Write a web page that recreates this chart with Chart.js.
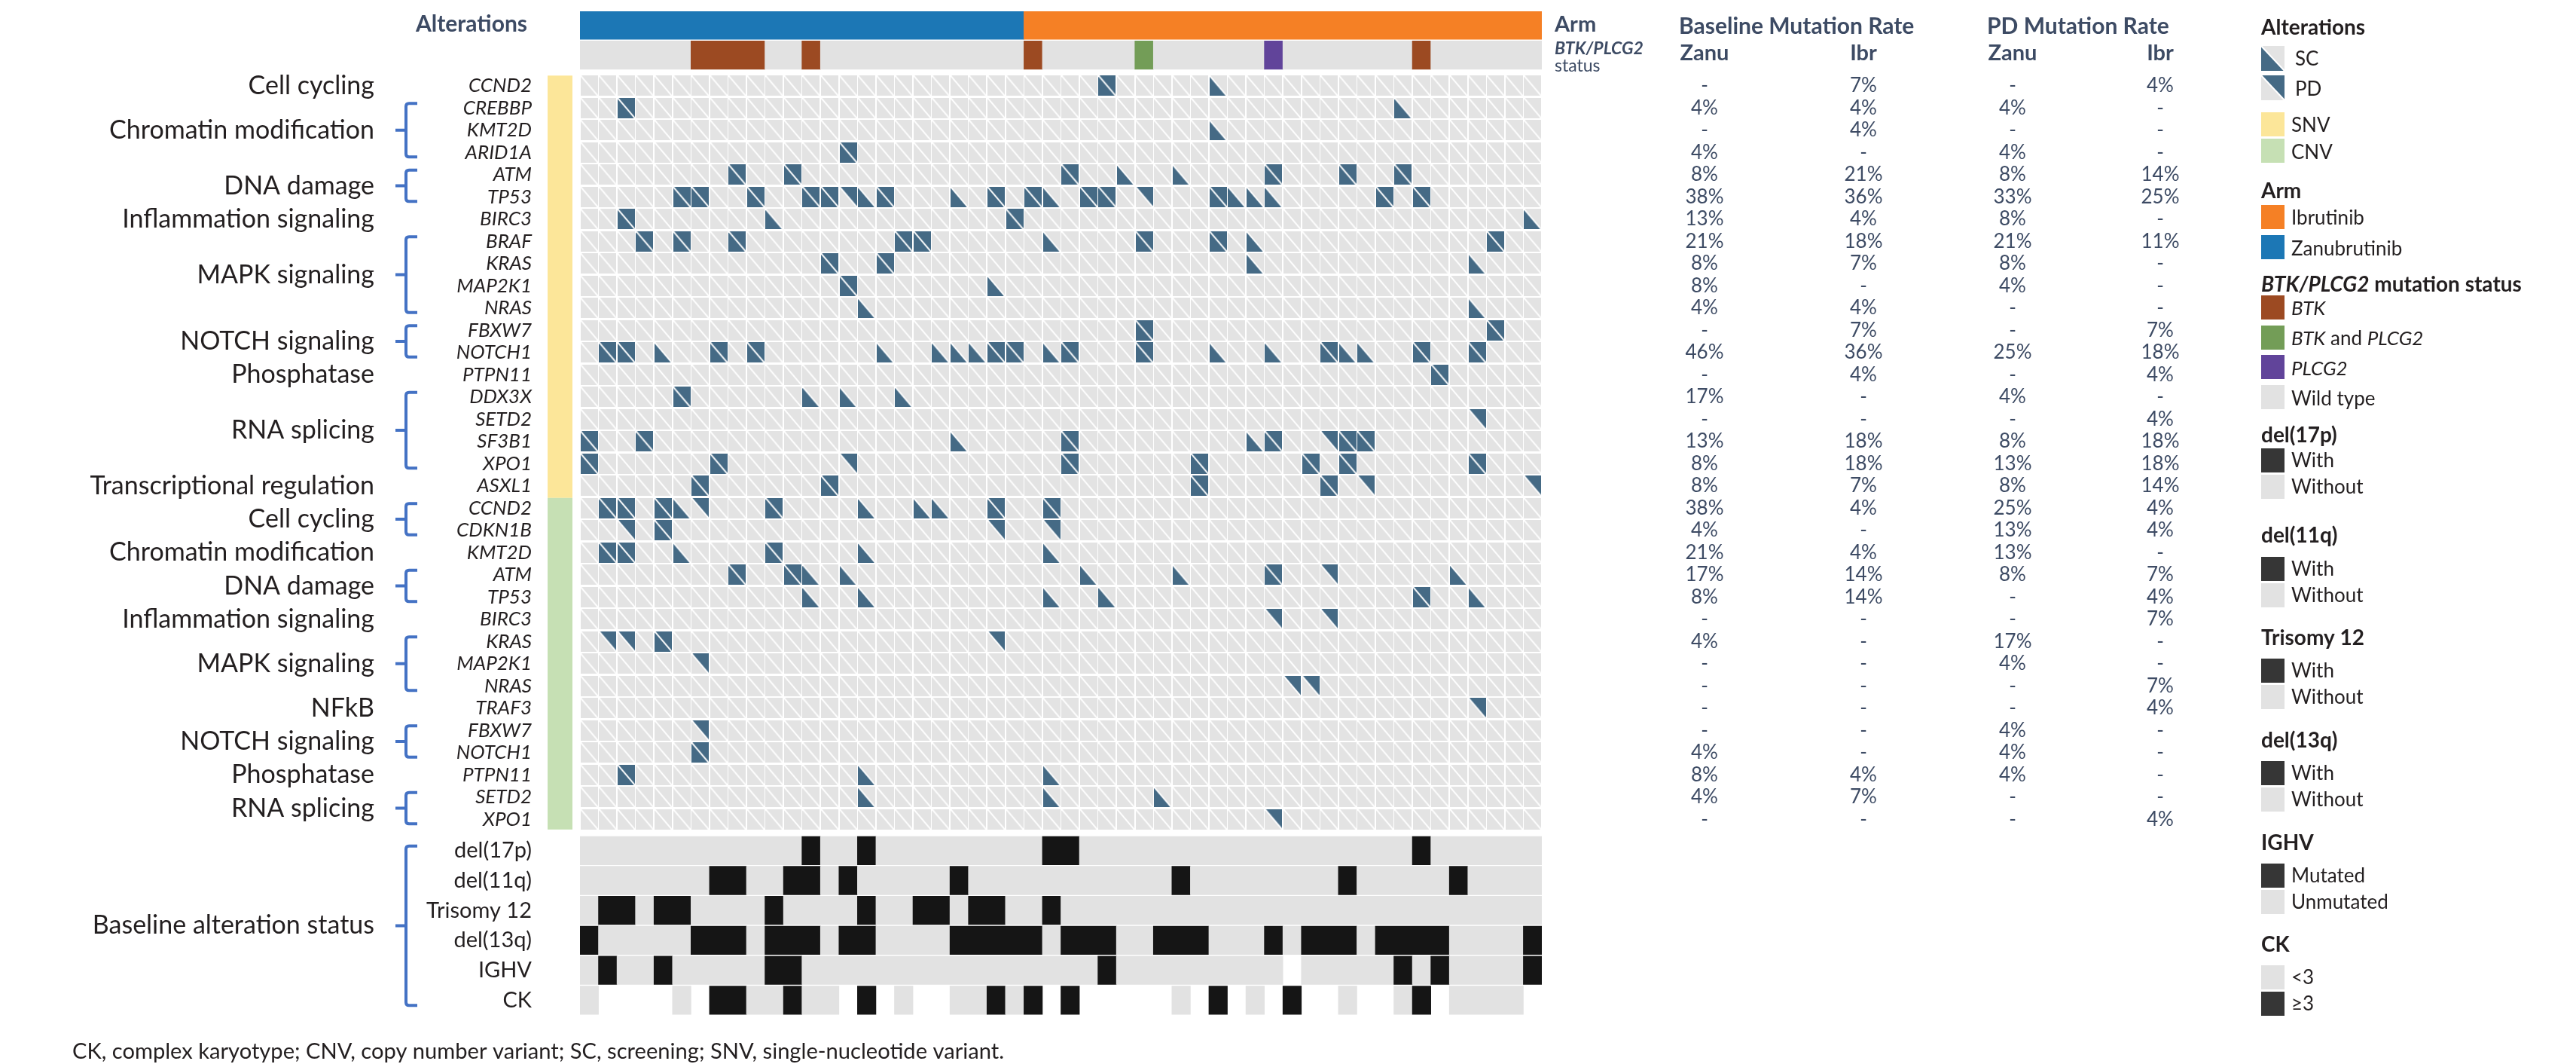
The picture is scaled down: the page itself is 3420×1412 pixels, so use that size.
<!DOCTYPE html>
<html>
<head>
<meta charset="utf-8">
<script src="https://cdn.jsdelivr.net/npm/chart.js@4.4.1/dist/chart.umd.min.js"></script>
<style>
  html, body { margin: 0; padding: 0; background: #ffffff; overflow: hidden; }
  canvas { display: block; }
</style>
</head>
<body>
<canvas id="onco" width="3420" height="1412" style="width:3420px;height:1412px"></canvas>
<script>
// ---------------- data ----------------
const armNames = ['Zanubrutinib', 'Ibrutinib'];
const armShort = ['Zanu', 'Ibr'];
const armSizes = [24, 28];

// BTK/PLCG2 status at progression (patient column indices)
const btkOnly = [6, 7, 8, 9, 12, 24, 45];
const btkAndPlcg2 = [30];
const plcg2Only = [37];

// SNV genes: columns altered at both screening and PD, screening only, PD only
const snvGenes = ['CCND2', 'CREBBP', 'KMT2D', 'ARID1A', 'ATM', 'TP53', 'BIRC3', 'BRAF', 'KRAS', 'MAP2K1',
  'NRAS', 'FBXW7', 'NOTCH1', 'PTPN11', 'DDX3X', 'SETD2', 'SF3B1', 'XPO1', 'ASXL1'];
const snvBoth = [[28], [2], [], [14], [8, 11, 26, 37, 41, 44],
  [5, 6, 9, 12, 13, 16, 22, 24, 27, 28, 34, 43, 45], [2, 23], [3, 5, 8, 17, 18, 30, 34, 49], [13, 16], [14],
  [], [30, 49], [1, 2, 7, 9, 22, 23, 26, 30, 40, 45, 48], [46], [5], [], [0, 3, 26, 37, 41, 42],
  [0, 7, 26, 33, 39, 41, 48], [6, 13, 33, 40]];
const snvScOnly = [[34], [44], [34], [], [29, 32], [15, 20, 25, 35, 36, 37], [10, 51], [25, 36], [36, 48], [22],
  [15, 48], [], [4, 16, 19, 20, 21, 25, 34, 37, 41, 42], [], [12, 14, 17], [], [20, 36], [], []];
const snvPdOnly = [[], [], [], [], [], [14, 30], [], [], [], [],
  [], [], [], [], [], [48], [40], [14], [42, 51]];

// CNV genes
const cnvGenes = ['CCND2', 'CDKN1B', 'KMT2D', 'ATM', 'TP53', 'BIRC3', 'KRAS', 'MAP2K1', 'NRAS', 'TRAF3',
  'FBXW7', 'NOTCH1', 'PTPN11', 'SETD2', 'XPO1'];
const cnvBoth = [[1, 2, 4, 10, 22, 25], [4], [1, 2, 10], [8, 11, 37], [45], [], [4], [], [], [],
  [], [6], [2], [], []];
const cnvScOnly = [[5, 15, 18, 19], [], [5, 15, 25], [12, 14, 27, 32, 47], [12, 15, 25, 28, 48], [], [], [], [], [],
  [], [], [15, 25], [15, 25, 31], []];
const cnvPdOnly = [[6], [2, 22, 25], [], [40], [], [37, 40], [1, 2, 22], [6], [38, 39], [48],
  [6], [], [], [], [37]];

// pathway groups: [label, first row, last row] within each block
const snvPathways = [['Cell cycling', 0, 0], ['Chromatin modification', 1, 3], ['DNA damage', 4, 5],
  ['Inflammation signaling', 6, 6], ['MAPK signaling', 7, 10], ['NOTCH signaling', 11, 12],
  ['Phosphatase', 13, 13], ['RNA splicing', 14, 17], ['Transcriptional regulation', 18, 18]];
const cnvPathways = [['Cell cycling', 0, 1], ['Chromatin modification', 2, 2], ['DNA damage', 3, 4],
  ['Inflammation signaling', 5, 5], ['MAPK signaling', 6, 8], ['NFkB', 9, 9], ['NOTCH signaling', 10, 11],
  ['Phosphatase', 12, 12], ['RNA splicing', 13, 14]];

// baseline alteration status
const baselineNames = ['del(17p)', 'del(11q)', 'Trisomy 12', 'del(13q)', 'IGHV', 'CK'];
const del17p = [12, 15, 25, 26, 45];
const del11q = [7, 8, 11, 12, 14, 20, 32, 41, 47];
const trisomy12 = [1, 2, 4, 5, 10, 15, 18, 19, 21, 22, 25];
const del13q = [0, 6, 7, 8, 10, 11, 12, 14, 15, 20, 21, 22, 23, 24, 26, 27, 28, 31, 32, 33, 37, 39, 40, 41,
  43, 44, 45, 46, 51];
const ighvMutated = [1, 4, 10, 11, 28, 44, 46, 51];
const ighvUnknown = [38];
const ckHigh = [7, 8, 11, 15, 22, 24, 26, 34, 38, 45];
const ckLow = [0, 5, 9, 10, 12, 13, 17, 20, 21, 23, 32, 36, 41, 44, 47, 48, 49, 50];

// ---------------- styling & layout ----------------
const COLORS = {
  zanu: '#1C77B5', ibr: '#F58025', btk: '#9C4A22', btkPlcg2: '#739D57', plcg2: '#61449A', wild: '#E2E2E2',
  cell: '#E3E3E3', mark: '#456A85', pos: '#151515', neg: '#E2E2E2', legendDark: '#363636',
  snv: '#FCE699', cnv: '#C6E0B4', bracket: '#4472C4', slate: '#3D4B64', ink: '#231F20'
};
const FONT = 'Lato, "Open Sans", "DejaVu Sans", sans-serif';
const W = 3420, H = 1412;
const N = armSizes[0] + armSizes[1];
const PLOT = { left: 770, right: 2047, top: 15, bottom: 1348 };
const Y_SPAN = PLOT.bottom - PLOT.top;       // y axis runs in px-sized units from the plot top
const BAND_H = 37.5, ARM_Y = 18.5, STATUS_Y = 58.2;
const GENE_TOP = 85.3, GENE_PITCH = 29.5, CELL_W = 23, CELL_H = 27;
const BASE_TOP = 1095, BASE_PITCH = 39.7, BASE_H = 37.6;

const geneCenter = r => GENE_TOP + r * GENE_PITCH + CELL_H / 2;
const baseCenter = j => BASE_TOP + j * BASE_PITCH + BASE_H / 2;

// ---------------- derived rows ----------------
const geneRows = [];
snvGenes.forEach((g, i) => geneRows.push({ gene: g, both: snvBoth[i], sc: snvScOnly[i], pd: snvPdOnly[i] }));
cnvGenes.forEach((g, i) => geneRows.push({ gene: g, both: cnvBoth[i], sc: cnvScOnly[i], pd: cnvPdOnly[i] }));

function stateOf(row, c) {
  if (row.both.includes(c)) return 'both';
  if (row.sc.includes(c)) return 'sc';
  if (row.pd.includes(c)) return 'pd';
  return 'none';
}
const armOf = c => (c < armSizes[0] ? 0 : 1);
function rateText(count, n) { return count === 0 ? '-' : Math.round(100 * count / n) + '%'; }
function rates(row) {
  const out = [];
  for (const phase of ['sc', 'pd']) {
    for (const a of [0, 1]) {
      let k = 0;
      for (let c = 0; c < N; c++) {
        if (armOf(c) !== a) continue;
        const s = stateOf(row, c);
        if (s === 'both' || s === phase) k++;
      }
      out.push(rateText(k, armSizes[a]));
    }
  }
  return out;
}

// merge consecutive columns with the same value into floating bars
function runs(values, yCenter, colorOf) {
  const data = [], colors = [];
  let start = 0;
  for (let c = 1; c <= values.length; c++) {
    if (c === values.length || values[c] !== values[start]) {
      const col = colorOf(values[start]);
      if (col) { data.push({ x: [start, c], y: yCenter }); colors.push(col); }
      start = c;
    }
  }
  return { data, colors };
}

function paintCell(g, x, y, w, h, kind) {
  g.fillStyle = COLORS.cell;
  g.fillRect(x, y, w, h);
  g.fillStyle = COLORS.mark;
  if (kind === 'sc' || kind === 'both') {
    g.beginPath(); g.moveTo(x, y); g.lineTo(x, y + h); g.lineTo(x + w, y + h); g.closePath(); g.fill();
  }
  if (kind === 'pd' || kind === 'both') {
    g.beginPath(); g.moveTo(x, y); g.lineTo(x + w, y); g.lineTo(x + w, y + h); g.closePath(); g.fill();
  }
  g.strokeStyle = '#FFFFFF'; g.lineWidth = 2;
  g.beginPath(); g.moveTo(x, y); g.lineTo(x + w, y + h); g.stroke();
}
function cellIcon(kind) {
  const cv = document.createElement('canvas');
  cv.width = CELL_W; cv.height = CELL_H;
  paintCell(cv.getContext('2d'), 0, 0, CELL_W, CELL_H, kind);
  return cv;
}

// ---------------- datasets ----------------
const datasets = [];
const barBase = { type: 'bar', indexAxis: 'y', grouped: false, borderWidth: 0, barThickness: BAND_H };

// arm band
{
  const armVals = [];
  armSizes.forEach((n, a) => { for (let i = 0; i < n; i++) armVals.push(a); });
  const r = runs(armVals, ARM_Y, a => (a === 0 ? COLORS.zanu : COLORS.ibr));
  datasets.push(Object.assign({}, barBase, { label: 'Arm', data: r.data, backgroundColor: r.colors }));
}
// BTK/PLCG2 status band
{
  const vals = [];
  for (let c = 0; c < N; c++) {
    vals.push(btkOnly.includes(c) ? 'btk' : btkAndPlcg2.includes(c) ? 'btkPlcg2' : plcg2Only.includes(c) ? 'plcg2' : 'wild');
  }
  const r = runs(vals, STATUS_Y, v => COLORS[v]);
  datasets.push(Object.assign({}, barBase, { label: 'BTK/PLCG2 status', data: r.data, backgroundColor: r.colors }));
}
// gene alteration cells
{
  const kinds = ['none', 'sc', 'pd', 'both'];
  const pts = { none: [], sc: [], pd: [], both: [] };
  geneRows.forEach((row, r) => {
    for (let c = 0; c < N; c++) pts[stateOf(row, c)].push({ x: c + 0.5, y: geneCenter(r) });
  });
  kinds.forEach(k => datasets.push({
    type: 'scatter', label: k, data: pts[k], pointStyle: cellIcon(k),
    pointRadius: 1, pointHoverRadius: 1, borderWidth: 0, showLine: false
  }));
}
// baseline alteration status rows
{
  const lists = [
    { pos: del17p, missing: [] }, { pos: del11q, missing: [] }, { pos: trisomy12, missing: [] },
    { pos: del13q, missing: [] }, { pos: ighvMutated, missing: ighvUnknown }, { pos: ckHigh, neg: ckLow }
  ];
  const data = [], colors = [];
  lists.forEach((l, j) => {
    const vals = [];
    for (let c = 0; c < N; c++) {
      if (l.pos.includes(c)) vals.push(1);
      else if (l.neg) vals.push(l.neg.includes(c) ? 0 : -1);
      else vals.push(l.missing.includes(c) ? -1 : 0);
    }
    const r = runs(vals, baseCenter(j), v => (v === 1 ? COLORS.pos : v === 0 ? COLORS.neg : null));
    data.push(...r.data); colors.push(...r.colors);
  });
  datasets.push(Object.assign({}, barBase, { label: 'Baseline', data, backgroundColor: colors, barThickness: BASE_H }));
}

// ---------------- text, brackets, table and legend ----------------
function txt(ctx, s, x, y, font, color, align) {
  ctx.font = font; ctx.fillStyle = color; ctx.textAlign = align || 'left'; ctx.textBaseline = 'middle';
  ctx.fillText(s, x, y);
}
function txtRuns(ctx, parts, x, y, color) {
  ctx.textAlign = 'left'; ctx.textBaseline = 'middle'; ctx.fillStyle = color;
  let cx = x;
  for (const [s, f] of parts) { ctx.font = f; ctx.fillText(s, cx, y); cx += ctx.measureText(s).width; }
}
function bracket(ctx, yTop, yBot) {
  const xv = 539, xr = 554, xl = 525, rr = 4;
  ctx.save();
  ctx.strokeStyle = COLORS.bracket; ctx.lineWidth = 4; ctx.lineCap = 'butt'; ctx.lineJoin = 'round';
  ctx.beginPath();
  ctx.moveTo(xr, yTop); ctx.lineTo(xv + rr, yTop); ctx.quadraticCurveTo(xv, yTop, xv, yTop + rr);
  ctx.lineTo(xv, yBot - rr); ctx.quadraticCurveTo(xv, yBot, xv + rr, yBot); ctx.lineTo(xr, yBot);
  const ym = (yTop + yBot) / 2;
  ctx.moveTo(xv, ym); ctx.lineTo(xl, ym);
  ctx.stroke();
  ctx.restore();
}

const annotate = {
  id: 'annotate',
  afterDraw(chart) {
    const ctx = chart.ctx;
    const ys = chart.scales.y;
    const py = v => ys.getPixelForValue(v);
    ctx.save();

    // left header
    txt(ctx, 'Alterations', 700, 32, `bold 30px ${FONT}`, COLORS.slate, 'right');

    // SNV / CNV side strip
    const snvTop = py(GENE_TOP), cnvTop = py(GENE_TOP + snvGenes.length * GENE_PITCH);
    const cnvBot = py(GENE_TOP + (geneRows.length - 1) * GENE_PITCH + CELL_H);
    ctx.fillStyle = COLORS.snv; ctx.fillRect(727, snvTop, 33, cnvTop - snvTop);
    ctx.fillStyle = COLORS.cnv; ctx.fillRect(727, cnvTop, 33, cnvBot - cnvTop);

    // gene labels
    geneRows.forEach((row, r) => txt(ctx, row.gene, 706, py(geneCenter(r)), `italic 26px ${FONT}`, COLORS.ink, 'right'));

    // pathway labels and brackets
    const groups = snvPathways.map(p => [p[0], p[1], p[2]])
      .concat(cnvPathways.map(p => [p[0], p[1] + snvGenes.length, p[2] + snvGenes.length]));
    groups.forEach(([label, a, b]) => {
      const ya = py(geneCenter(a)), yb = py(geneCenter(b));
      txt(ctx, label, 497, (ya + yb) / 2, `34px ${FONT}`, COLORS.ink, 'right');
      if (b > a) bracket(ctx, ya - 6, yb + 6);
    });

    // baseline labels
    baselineNames.forEach((name, j) => txt(ctx, name, 706, py(baseCenter(j)), `29px ${FONT}`, COLORS.ink, 'right'));
    const bTop = py(baseCenter(0)), bBot = py(baseCenter(baselineNames.length - 1));
    txt(ctx, 'Baseline alteration status', 497, (bTop + bBot) / 2, `34px ${FONT}`, COLORS.ink, 'right');
    bracket(ctx, bTop - 6, bBot + 7);

    // footnote
    {
      const note = 'CK, complex karyotype; CNV, copy number variant; SC, screening; SNV, single-nucleotide variant.';
      ctx.font = `27px ${FONT}`;
      const size = 27 * 1237 / ctx.measureText(note).width;
      txt(ctx, note, 96, 1396, `${size.toFixed(2)}px ${FONT}`, COLORS.ink, 'left');
    }

    // table headers
    txt(ctx, 'Arm', 2064, 33, `bold 29px ${FONT}`, COLORS.slate);
    txt(ctx, 'BTK/PLCG2', 2064, 65, `italic bold 23px ${FONT}`, COLORS.slate);
    txt(ctx, 'status', 2064, 88, `23px ${FONT}`, COLORS.slate);
    txt(ctx, 'Baseline Mutation Rate', 2229, 35, `bold 30px ${FONT}`, COLORS.slate);
    txt(ctx, 'PD Mutation Rate', 2638, 35, `bold 30px ${FONT}`, COLORS.slate);
    const colX = [2263, 2474, 2672, 2868];
    [armShort[0], armShort[1], armShort[0], armShort[1]].forEach((s, i) =>
      txt(ctx, s, colX[i], 71, `bold 29px ${FONT}`, COLORS.slate, 'center'));
    geneRows.forEach((row, r) => {
      rates(row).forEach((v, i) => txt(ctx, v, colX[i], py(geneCenter(r)), `26px ${FONT}`, COLORS.slate, 'center'));
    });

    // legend
    const LX = 3002, SW = 31, TX = 3042;
    const LABEL = `26px ${FONT}`, LABEL_I = `italic 26px ${FONT}`, HEAD = `bold 28px ${FONT}`;
    const head = (s, y) => txt(ctx, s, LX, y, HEAD, COLORS.ink);
    const sw = (color, top, label, ly, parts) => {
      ctx.fillStyle = color; ctx.fillRect(LX, top, SW, 32);
      if (parts) txtRuns(ctx, parts, TX, ly, COLORS.ink);
      else txt(ctx, label, TX, ly, LABEL, COLORS.ink);
    };
    head('Alterations', 37);
    paintCell(ctx, LX, 61, SW, 33, 'sc'); txt(ctx, 'SC', 3047, 79, LABEL, COLORS.ink);
    paintCell(ctx, LX, 100, SW, 33, 'pd'); txt(ctx, 'PD', 3047, 119, LABEL, COLORS.ink);
    sw(COLORS.snv, 149, 'SNV', 167); sw(COLORS.cnv, 184, 'CNV', 203);
    head('Arm', 254);
    sw(COLORS.ibr, 272, armNames[1], 290); sw(COLORS.zanu, 312, armNames[0], 331);
    txtRuns(ctx, [['BTK/PLCG2', `italic bold 28px ${FONT}`], [' mutation status', HEAD]], LX, 378, COLORS.ink);
    sw(COLORS.btk, 392, '', 410, [['BTK', LABEL_I]]);
    sw(COLORS.btkPlcg2, 432, '', 450, [['BTK', LABEL_I], [' and ', LABEL], ['PLCG2', LABEL_I]]);
    sw(COLORS.plcg2, 471, '', 490, [['PLCG2', LABEL_I]]);
    sw(COLORS.wild, 511, 'Wild type', 530);
    const pairs = [
      ['del(17p)', 578, 595, 'With', 'Without', true],
      ['del(11q)', 711, 739, 'With', 'Without', true],
      ['Trisomy 12', 847, 874, 'With', 'Without', true],
      ['del(13q)', 983, 1010, 'With', 'Without', true],
      ['IGHV', 1119, 1146, 'Mutated', 'Unmutated', true],
      ['CK', 1254, 1281, '<3', '\u22653', false]
    ];
    pairs.forEach(([h, hy, top, a, b, darkFirst]) => {
      head(h, hy);
      sw(darkFirst ? COLORS.legendDark : COLORS.neg, top, a, top + 17);
      sw(darkFirst ? COLORS.neg : COLORS.legendDark, top + 35, b, top + 52);
    });

    ctx.restore();
  }
};

new Chart(document.getElementById('onco').getContext('2d'), {
  type: 'bar',
  data: { datasets },
  options: {
    responsive: false,
    animation: false,
    events: [],
    layout: { padding: { left: PLOT.left, right: W - PLOT.right, top: PLOT.top, bottom: H - PLOT.bottom } },
    scales: {
      x: { type: 'linear', min: 0, max: N, offset: false, bounds: 'data', display: false },
      y: { type: 'linear', min: 0, max: Y_SPAN, reverse: true, offset: false, bounds: 'data', display: false }
    },
    plugins: { legend: { display: false }, tooltip: { enabled: false }, title: { display: false } }
  },
  plugins: [annotate]
});
</script>
</body>
</html>
